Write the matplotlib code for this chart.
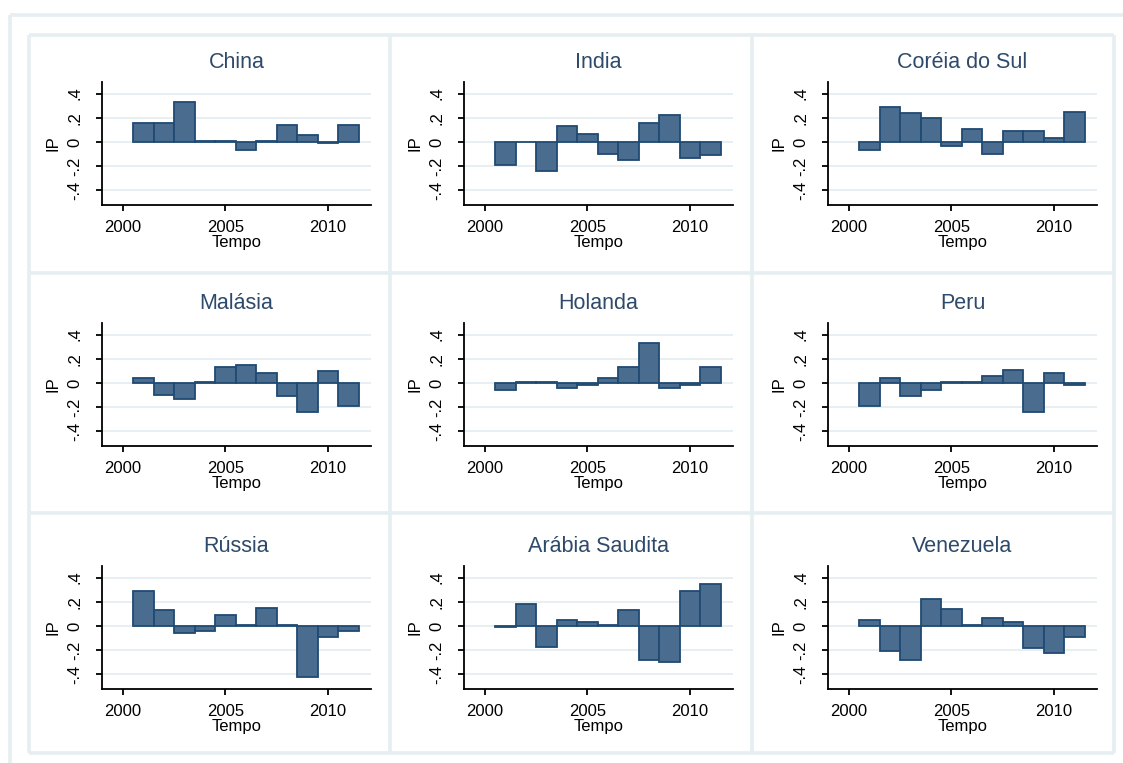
import matplotlib.pyplot as plt
from matplotlib.lines import Line2D

plt.rcParams['font.family'] = ['Liberation Sans', 'DejaVu Sans']

anos = list(range(2001, 2012))

paises = ['China', 'India', 'Coréia do Sul',
          'Malásia', 'Holanda', 'Peru',
          'Rússia', 'Arábia Saudita', 'Venezuela']

china = [0.16, 0.16, 0.33, 0.01, 0.01, -0.07, 0.01, 0.14, 0.055, -0.005, 0.14]
india = [-0.19, 0.0, -0.24, 0.13, 0.07, -0.10, -0.15, 0.16, 0.22, -0.13, -0.11]
coreia = [-0.07, 0.29, 0.24, 0.20, -0.03, 0.11, -0.10, 0.09, 0.09, 0.03, 0.25]
malasia = [0.04, -0.10, -0.13, 0.01, 0.13, 0.15, 0.08, -0.11, -0.24, 0.10, -0.19]
holanda = [-0.06, 0.01, 0.01, -0.04, -0.02, 0.04, 0.13, 0.33, -0.04, -0.02, 0.13]
peru = [-0.19, 0.04, -0.11, -0.06, 0.01, 0.01, 0.06, 0.11, -0.24, 0.08, -0.02]
russia = [0.29, 0.13, -0.06, -0.04, 0.09, 0.01, 0.15, 0.01, -0.42, -0.09, -0.04]
arabia = [-0.005, 0.18, -0.17, 0.05, 0.03, 0.01, 0.13, -0.28, -0.30, 0.29, 0.35]
venezuela = [0.05, -0.21, -0.28, 0.22, 0.14, 0.01, 0.07, 0.03, -0.18, -0.22, -0.09]

series = [china, india, coreia, malasia, holanda, peru, russia, arabia, venezuela]

yticks = [-0.4, -0.2, 0, 0.2, 0.4]
ylabels = ['-.4', '-.2', '0', '.2', '.4']
xticks = [2000, 2005, 2010]

W, H = 1123, 763
fig = plt.figure(figsize=(W / 100, H / 100), dpi=100)
fig.patch.set_facecolor('white')

frame = '#E6EEF1'
fill = '#4A6C8E'
edge = '#1F4A72'


def linha(x0, y0, x1, y1):
    fig.add_artist(Line2D([x0 / W, x1 / W], [1 - y0 / H, 1 - y1 / H],
                          color=frame, lw=2.6, solid_capstyle='butt'))


# moldura externa
linha(10, 15, W, 15)
linha(10, 15, 10, H)

# grade dos paineis
cols = [28.5, 390, 752, 1114]
rows = [34.5, 272.5, 512.5, 752.5]
for x in cols:
    linha(x, rows[0], x, rows[-1])
for y in rows:
    linha(cols[0], y, cols[-1], y)

lefts = [102, 464, 828]
tops = [82, 323, 566]
aw, ah = 269, 123

for i, (nome, vals) in enumerate(zip(paises, series)):
    r, c = divmod(i, 3)
    ax = fig.add_axes([lefts[c] / W, 1 - (tops[r] + ah) / H, aw / W, ah / H])
    ax.set_axisbelow(True)
    ax.bar(anos, vals, width=1.0, color=fill, edgecolor=edge, linewidth=1.3)
    ax.set_xlim(1998.98, 2012.1)
    ax.set_ylim(-0.52, 0.495)
    ax.set_yticks(yticks)
    ax.set_yticklabels(ylabels, rotation=90, va='center', fontsize=12)
    ax.set_xticks(xticks)
    ax.set_xticklabels([str(t) for t in xticks], fontsize=12)
    ax.grid(axis='y', color=frame, lw=1.3)
    ax.grid(axis='x', visible=False)
    for s in ['top', 'right']:
        ax.spines[s].set_visible(False)
    for s in ['left', 'bottom']:
        ax.spines[s].set_linewidth(1.3)
        ax.spines[s].set_color('black')
    ax.tick_params(axis='x', length=4, width=1.3, pad=7)
    ax.tick_params(axis='y', length=4, width=1.3, pad=10)
    ax.set_ylabel('IP', fontsize=12, labelpad=5)
    ax.set_xlabel('Tempo', fontsize=12, labelpad=0)
    ax.set_title(nome, fontsize=15.5, color='#2E4A6B', pad=10)

fig.savefig('out.png', dpi=100, facecolor='white')
